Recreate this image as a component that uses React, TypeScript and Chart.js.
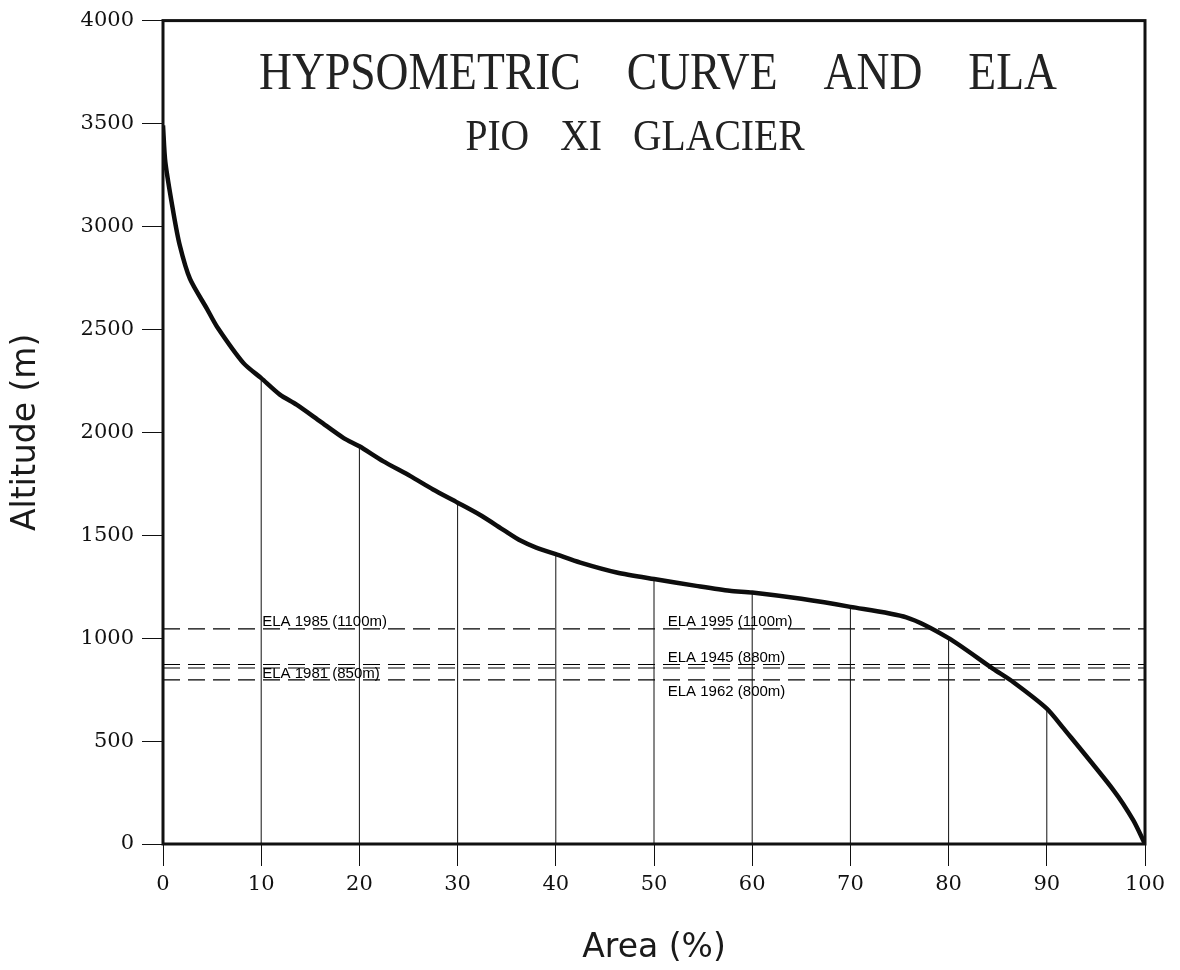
import React, { useEffect, useRef } from "react";
import { Chart, registerables } from "chart.js";

Chart.register(...registerables);

// Hypsometric curve (area % vs altitude m)
const areaPct = [0, 0.24, 1.05, 1.7, 2.75, 4.45, 5.5, 8.2, 10, 11.9, 13.6, 16, 18.4, 20, 22.4, 25.2, 27.5, 30, 32.3, 34.7, 36.4, 38, 40, 42.5, 46.2, 50, 54.3, 57.7, 60, 65, 70, 75.7, 80, 84.5, 86.6, 90, 91.6, 96.8, 98.8, 100];
const altitude = [3491, 3312, 3070, 2910, 2745, 2602, 2513, 2336, 2263, 2183, 2134, 2053, 1972, 1932, 1860, 1787, 1722, 1658, 1598, 1525, 1474, 1440, 1408, 1367, 1319, 1287, 1254, 1230, 1222, 1191, 1152, 1101, 1000, 852, 786, 658, 568, 261, 116, 0];

// Vertical drop lines at each 10 %
const dropArea = [10, 20, 30, 40, 50, 60, 70, 80, 90];
const dropAltitude = [2263, 1932, 1658, 1408, 1287, 1222, 1152, 1000, 658];

// Horizontal dashed ELA lines (as drawn)
const elaAltitude = [1045, 872, 855, 797];

// ELA labels
const elaLabels = ["ELA 1985 (1100m)", "ELA 1981 (850m)", "ELA 1995 (1100m)", "ELA 1945 (880m)", "ELA 1962 (800m)"];
const elaLabelArea = [10.1, 10.1, 51.4, 51.4, 51.4];
const elaLabelAltitude = [1058, 808, 1058, 886, 721];

const xTicks = [0, 10, 20, 30, 40, 50, 60, 70, 80, 90, 100];
const yTicks = [0, 500, 1000, 1500, 2000, 2500, 3000, 3500, 4000];

const titleText = "HYPSOMETRIC CURVE AND ELA";
const subtitleText = "PIO XI GLACIER";
const xTitle = "Area (%)";
const yTitle = "Altitude (m)";

function drawSpacedText(ctx: CanvasRenderingContext2D, text: string, cx: number, baseline: number, font: string, scaleX: number, gap: number) {
  ctx.save();
  ctx.font = font;
  ctx.textAlign = "left";
  ctx.textBaseline = "alphabetic";
  const words = text.split(" ");
  const widths = words.map((w) => ctx.measureText(w).width * scaleX);
  const total = widths.reduce((a, b) => a + b, 0) + gap * (words.length - 1);
  let x = cx - total / 2;
  words.forEach((w, i) => {
    ctx.save();
    ctx.translate(x, baseline);
    ctx.scale(scaleX, 1);
    ctx.fillText(w, 0, 0);
    ctx.restore();
    x += widths[i] + gap;
  });
  ctx.restore();
}

const overlayPlugin = {
  id: "overlay",
  afterDatasetsDraw(chart: any) {
    const { ctx, chartArea: a, scales } = chart;
    ctx.save();
    ctx.strokeStyle = "#111";
    ctx.lineWidth = 3;
    ctx.strokeRect(a.left, a.top, a.right - a.left, a.bottom - a.top);

    ctx.fillStyle = "#000";
    ctx.font = '15px "Liberation Sans"';
    ctx.textAlign = "left";
    ctx.textBaseline = "alphabetic";
    elaLabels.forEach((t, i) => {
      ctx.fillText(t, scales.x.getPixelForValue(elaLabelArea[i]), scales.y.getPixelForValue(elaLabelAltitude[i]));
    });

    ctx.fillStyle = "#222";
    drawSpacedText(ctx, titleText, a.left + 495, a.top + 68, '53px "Liberation Serif"', 0.86, 46);
    drawSpacedText(ctx, subtitleText, a.left + 472, a.top + 129, '45px "Liberation Serif"', 0.88, 31);
    ctx.restore();
  },
};

export default function App() {
  const ref = useRef<HTMLCanvasElement | null>(null);

  useEffect(() => {
    if (!ref.current) return;
    const curve = areaPct.map((x, i) => ({ x, y: altitude[i] }));
    const drops = dropArea.map((x, i) => ({
      data: [{ x, y: 0 }, { x, y: dropAltitude[i] }],
      borderColor: "#111",
      borderWidth: 1,
      pointRadius: 0,
      order: 2,
      tension: 0,
    }));
    const elas = elaAltitude.map((v) => ({
      data: [{ x: 0, y: v }, { x: 100, y: v }],
      borderColor: "#000",
      borderWidth: 1.2,
      borderDash: [17, 8],
      pointRadius: 0,
      order: 2,
      tension: 0,
    }));

    const chart = new Chart(ref.current, {
      type: "line",
      data: {
        datasets: [
          {
            data: curve,
            borderColor: "#0d0d0d",
            borderWidth: 4.5,
            pointRadius: 0,
            tension: 0.25,
            order: 0,
          } as any,
          ...drops,
          ...elas,
        ],
      },
      plugins: [overlayPlugin],
      options: {
        responsive: false,
        animation: false,
        devicePixelRatio: 1,
        layout: { padding: { left: 0, top: 17, right: 35, bottom: 0 } },
        plugins: { legend: { display: false }, tooltip: { enabled: false }, title: { display: false } },
        scales: {
          x: {
            type: "linear",
            min: 0,
            max: 100,
            afterBuildTicks: (s: any) => {
              s.ticks = xTicks.map((v) => ({ value: v }));
            },
            afterFit: (s: any) => {
              s.height = 126;
            },
            ticks: {
              color: "#111",
              padding: 6,
              font: { family: '"DejaVu Serif"', size: 21 },
              maxRotation: 0,
              callback: (v: any) => String(v),
            },
            grid: { drawOnChartArea: false, drawTicks: true, tickLength: 22, color: "#111", lineWidth: 1 },
            border: { display: false },
            title: {
              display: true,
              text: xTitle,
              color: "#1a1a1a",
              font: { family: '"DejaVu Sans"', size: 33 },
              padding: { top: 0, bottom: 2 },
            },
          },
          y: {
            type: "linear",
            min: 0,
            max: 4000,
            afterBuildTicks: (s: any) => {
              s.ticks = yTicks.map((v) => ({ value: v }));
            },
            afterFit: (s: any) => {
              s.width = 163;
            },
            ticks: {
              color: "#111",
              padding: 8,
              font: { family: '"DejaVu Serif"', size: 21 },
              callback: (v: any) => String(v),
            },
            grid: { drawOnChartArea: false, drawTicks: true, tickLength: 21, color: "#111", lineWidth: 1 },
            border: { display: false },
            title: {
              display: true,
              text: yTitle,
              color: "#1a1a1a",
              font: { family: '"DejaVu Sans"', size: 33 },
              padding: { top: 7, bottom: 0 },
            },
          },
        },
      } as any,
    });
    return () => chart.destroy();
  }, []);

  return (
    <div style={{ position: "fixed", left: 0, top: 0, width: 1180, height: 970, background: "#fff" }}>
      <canvas ref={ref} width={1180} height={970} style={{ display: "block" }} />
    </div>
  );
}
